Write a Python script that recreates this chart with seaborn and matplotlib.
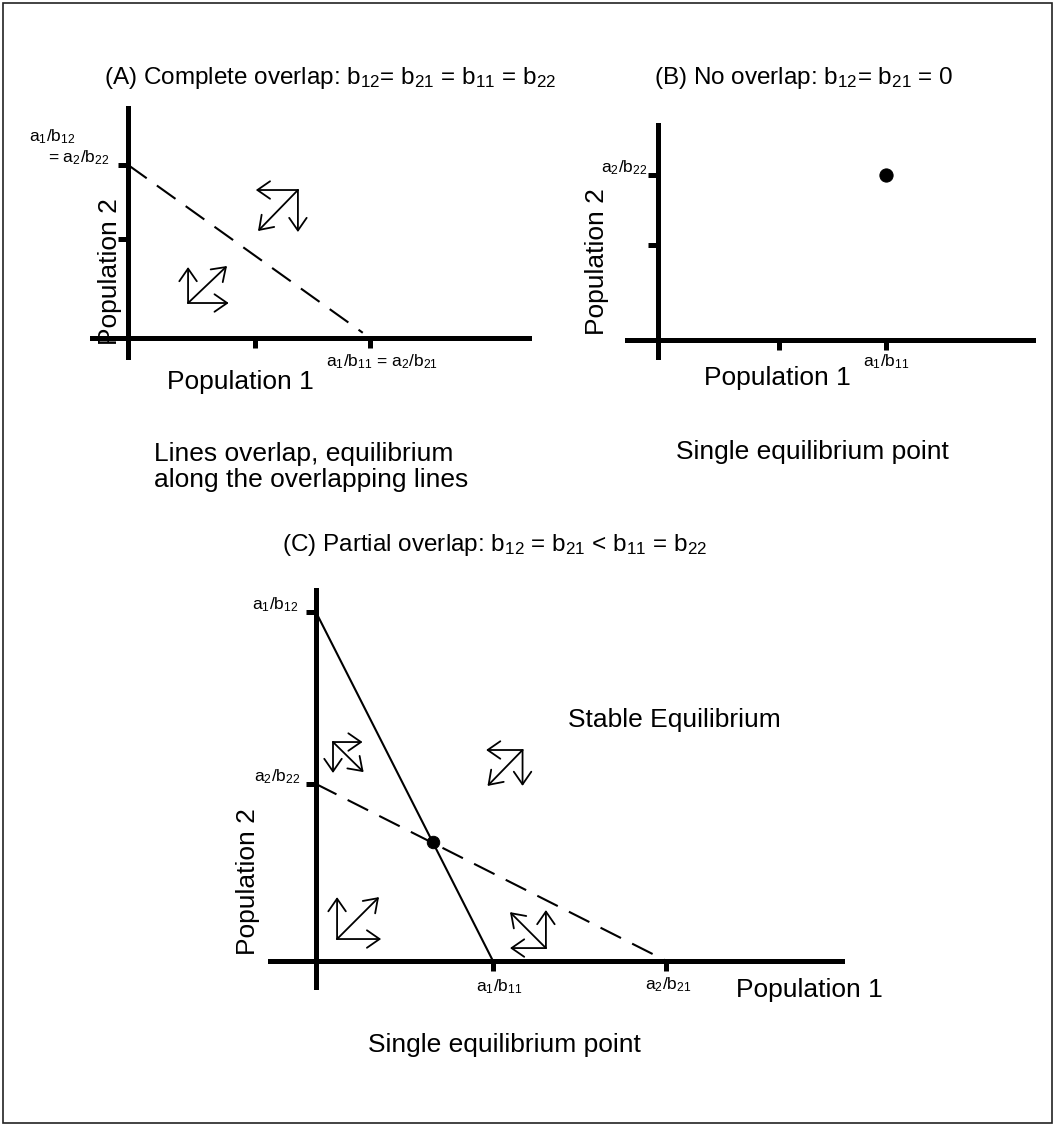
import matplotlib
matplotlib.use("Agg")
import matplotlib.pyplot as plt
from matplotlib.patches import Rectangle
import seaborn as sns

sns.set_style("white")
plt.rcParams["font.family"] = ["Liberation Sans", "DejaVu Sans"]
plt.rcParams["mathtext.fontset"] = "custom"
plt.rcParams["mathtext.rm"] = "Liberation Sans"
plt.rcParams["mathtext.default"] = "regular"
plt.rcParams["text.color"] = "black"

# ---------------- data ----------------
# Panel A: complete overlap
A_xticks = [0.525, 1.0]
A_yticks = [0.572, 1.0]
A_iso_x = [0.0, 0.97]
A_iso_y = [1.0, 0.03]
A_arrow_origins = [(0.702, 0.855), (0.248, 0.202)]
A_arrow_vectors = [[(-0.174, 0.0), (0.0, -0.243), (-0.165, -0.237)],
                   [(0.0, 0.208), (0.168, 0.0), (0.161, 0.214)]]

# Panel B: no overlap
B_xticks = [0.531, 1.0]
B_yticks = [0.576, 1.0]
B_eq_x = [1.0]
B_eq_y = [1.0]

# Panel C: partial overlap
C_xticks = [1.0, 1.98]
C_yticks = [1.0, 1.97]
C_iso1_x = [0.0, 1.0]     # a1/b12 -> a1/b11 (solid)
C_iso1_y = [1.97, 0.0]
C_iso2_x = [0.0, 1.98]    # a2/b22 -> a2/b21 (dashed)
C_iso2_y = [1.0, 0.0]
C_eq_x = [0.661]
C_eq_y = [0.672]
C_arrow_origins = [(0.096, 1.237), (1.167, 1.192), (0.119, 0.124), (1.299, 0.073)]
C_arrow_vectors = [[(0.167, 0.0), (0.0, -0.175), (0.173, -0.170)],
                   [(-0.206, 0.0), (0.0, -0.203), (-0.198, -0.203)],
                   [(0.0, 0.237), (0.249, 0.0), (0.237, 0.237)],
                   [(-0.203, 0.0), (0.0, 0.215), (-0.203, 0.203)]]

title_A = r"(A) Complete overlap: $b_{12}$= $b_{21}$ = $b_{11}$ = $b_{22}$"
title_B = r"(B) No overlap: $b_{12}$= $b_{21}$ = 0"
title_C = r"(C) Partial overlap: $b_{12}$ = $b_{21}$ < $b_{11}$ = $b_{22}$"
caption_A = "Lines overlap, equilibrium\nalong the overlapping lines"
caption_B = "Single equilibrium point"
caption_C = "Single equilibrium point"

# ---------------- figure ----------------
W, H = 1053, 1126
fig = plt.figure(figsize=(W / 100, H / 100), dpi=100)
fig.patch.set_facecolor("white")

BIG = 19
TITLE = 17.5
SMALL = 12.5
AX_LW = 3.6


def make_axes(box, xlim, ylim, xticks, yticks):
    left, top, right, bottom = box
    ax = fig.add_axes([left / W, 1 - bottom / H, (right - left) / W, (bottom - top) / H])
    ax.set_xlim(xlim)
    ax.set_ylim(ylim)
    ax.patch.set_alpha(0)
    for s in ["top", "right"]:
        ax.spines[s].set_visible(False)
    for s in ["left", "bottom"]:
        ax.spines[s].set_position(("data", 0))
        ax.spines[s].set_linewidth(AX_LW)
        ax.spines[s].set_color("black")
    ax.set_xticks(xticks)
    ax.set_yticks(yticks)
    ax.tick_params(axis="both", direction="out", length=7.5, width=AX_LW, color="black",
                   bottom=True, left=True, labelbottom=False, labelleft=False)
    ax.set_xlabel("")
    ax.set_ylabel("")
    return ax


def draw_arrows(ax, origins, vectors):
    for (ox, oy), vecs in zip(origins, vectors):
        for dx, dy in vecs:
            ax.annotate("", xy=(ox + dx, oy + dy), xytext=(ox, oy), annotation_clip=False,
                        arrowprops=dict(arrowstyle="->,head_length=0.65,head_width=0.45",
                                        lw=1.3, color="black", shrinkA=0, shrinkB=0,
                                        mutation_scale=14))


# ---- Panel A ----
axA = make_axes((92, 108, 529, 357), (-0.149, 1.657), (-0.110, 1.329), A_xticks, A_yticks)
sns.lineplot(x=A_iso_x, y=A_iso_y, ax=axA, color="black", linewidth=1.5,
             linestyle=(0, (11, 6)), sort=False)
draw_arrows(axA, A_arrow_origins, A_arrow_vectors)
axA.text(-0.409, 1.162, r"$a_1/b_{12}$", fontsize=SMALL, ha="left", va="center")
axA.text(-0.331, 1.040, r"= $a_2/b_{22}$", fontsize=SMALL, ha="left", va="center")
axA.text(1.05, -0.139, r"$a_1/b_{11}$ = $a_2/b_{21}$", fontsize=SMALL, ha="center", va="center")
axA.text(0.463, -0.254, "Population 1", fontsize=BIG, ha="center", va="center")
axA.text(-0.074, 0.382, "Population 2", fontsize=BIG, ha="center", va="center", rotation=90)

# ---- Panel B ----
axB = make_axes((627, 125, 1033, 357), (-0.136, 1.645), (-0.103, 1.303), B_xticks, B_yticks)
sns.scatterplot(x=B_eq_x, y=B_eq_y, ax=axB, color="black", s=90, edgecolor="black",
                zorder=5, legend=False)
axB.text(-0.044, 1.042, r"$a_2/b_{22}$", fontsize=SMALL, ha="right", va="center")
axB.text(1.0, -0.133, r"$a_1/b_{11}$", fontsize=SMALL, ha="center", va="center")
axB.text(0.522, -0.230, "Population 1", fontsize=BIG, ha="center", va="center")
axB.text(-0.268, 0.473, "Population 2", fontsize=BIG, ha="center", va="center", rotation=90)

# ---- Panel C ----
axC = make_axes((270, 590, 842, 987), (-0.26, 2.972), (-0.147, 2.096), C_xticks, C_yticks)
sns.lineplot(x=C_iso1_x, y=C_iso1_y, ax=axC, color="black", linewidth=1.5, sort=False)
sns.lineplot(x=C_iso2_x, y=C_iso2_y, ax=axC, color="black", linewidth=1.5,
             linestyle=(0, (11, 6)), sort=False)
sns.scatterplot(x=C_eq_x, y=C_eq_y, ax=axC, color="black", s=80, edgecolor="black",
                zorder=5, legend=False)
draw_arrows(axC, C_arrow_origins, C_arrow_vectors)
axC.text(-0.096, 2.011, r"$a_1/b_{12}$", fontsize=SMALL, ha="right", va="center")
axC.text(-0.090, 1.040, r"$a_2/b_{22}$", fontsize=SMALL, ha="right", va="center")
axC.text(1.034, -0.147, r"$a_1/b_{11}$", fontsize=SMALL, ha="center", va="center")
axC.text(1.989, -0.136, r"$a_2/b_{21}$", fontsize=SMALL, ha="center", va="center")
axC.text(2.373, -0.164, "Population 1", fontsize=BIG, ha="left", va="center")
axC.text(1.424, 1.362, "Stable Equilibrium", fontsize=BIG, ha="left", va="center")
axC.text(-0.384, 0.446, "Population 2", fontsize=BIG, ha="center", va="center", rotation=90)

# ---- figure-level texts ----
def ftext(x, y, s, **kw):
    fig.text(x / W, 1 - y / H, s, **kw)

ftext(330.5, 78, title_A, fontsize=TITLE, ha="center", va="center")
ftext(804, 78, title_B, fontsize=TITLE, ha="center", va="center")
ftext(495, 545, title_C, fontsize=TITLE, ha="center", va="center")
ftext(154, 467, caption_A, fontsize=BIG, ha="left", va="center", linespacing=1.15)
ftext(812, 452, caption_B, fontsize=BIG, ha="center", va="center")
ftext(504, 1045, caption_C, fontsize=BIG, ha="center", va="center")

fig.add_artist(Rectangle((2.5 / W, 3 / H), (1049.5 / W), (1120 / H), transform=fig.transFigure,
                         fill=False, edgecolor="#222222", linewidth=1.2))

fig.savefig("out.png", dpi=100, facecolor="white")
